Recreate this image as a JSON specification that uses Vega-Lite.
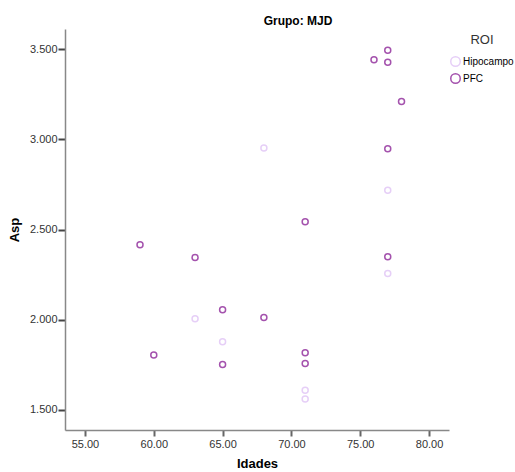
{
  "$schema": "https://vega.github.io/schema/vega-lite/v6.json",
  "autosize": "none",
  "width": 384,
  "height": 401,
  "padding": {"left": 65, "top": 29, "right": 66, "bottom": 42},
  "background": "white",
  "config": {
    "font": "Liberation Sans",
    "view": {"stroke": null}
  },
  "title": {
    "text": "Grupo: MJD",
    "font": "Liberation Sans",
    "fontSize": 12,
    "fontWeight": "bold",
    "color": "#000000",
    "anchor": "middle",
    "dx": 41,
    "offset": 1
  },
  "data": {
    "values": [
      {"Idades": 77, "Asp": 3.493, "ROI": "PFC"},
      {"Idades": 76, "Asp": 3.441, "ROI": "PFC"},
      {"Idades": 77, "Asp": 3.427, "ROI": "PFC"},
      {"Idades": 78, "Asp": 3.209, "ROI": "PFC"},
      {"Idades": 77, "Asp": 2.947, "ROI": "PFC"},
      {"Idades": 71, "Asp": 2.543, "ROI": "PFC"},
      {"Idades": 59, "Asp": 2.415, "ROI": "PFC"},
      {"Idades": 63, "Asp": 2.345, "ROI": "PFC"},
      {"Idades": 77, "Asp": 2.349, "ROI": "PFC"},
      {"Idades": 65, "Asp": 2.055, "ROI": "PFC"},
      {"Idades": 68, "Asp": 2.013, "ROI": "PFC"},
      {"Idades": 60, "Asp": 1.805, "ROI": "PFC"},
      {"Idades": 71, "Asp": 1.817, "ROI": "PFC"},
      {"Idades": 65, "Asp": 1.752, "ROI": "PFC"},
      {"Idades": 71, "Asp": 1.758, "ROI": "PFC"},
      {"Idades": 68, "Asp": 2.951, "ROI": "Hipocampo"},
      {"Idades": 77, "Asp": 2.718, "ROI": "Hipocampo"},
      {"Idades": 77, "Asp": 2.256, "ROI": "Hipocampo"},
      {"Idades": 63, "Asp": 2.006, "ROI": "Hipocampo"},
      {"Idades": 65, "Asp": 1.878, "ROI": "Hipocampo"},
      {"Idades": 71, "Asp": 1.609, "ROI": "Hipocampo"},
      {"Idades": 71, "Asp": 1.561, "ROI": "Hipocampo"}
    ]
  },
  "mark": {"type": "point", "shape": "circle", "filled": false, "strokeWidth": 1.5, "size": 36, "opacity": 1},
  "encoding": {
    "x": {
      "field": "Idades",
      "type": "quantitative",
      "scale": {"domain": [53.55, 81.45], "nice": false, "zero": false},
      "axis": {
        "values": [55, 60, 65, 70, 75, 80],
        "format": ".2f",
        "grid": false,
        "title": "Idades",
        "titleFont": "Liberation Sans",
        "titleFontSize": 13,
        "titleFontWeight": "bold",
        "titleColor": "#000000",
        "titlePadding": 8,
        "labelFont": "Liberation Sans",
        "labelFontSize": 11,
        "labelColor": "#333333",
        "labelPadding": 2,
        "tickSize": 6,
        "tickColor": "#666666",
        "tickWidth": 2,
        "domainColor": "#888888",
        "domainWidth": 1.5
      }
    },
    "y": {
      "field": "Asp",
      "type": "quantitative",
      "scale": {"domain": [1.389, 3.611], "nice": false, "zero": false},
      "axis": {
        "values": [1.5, 2.0, 2.5, 3.0, 3.5],
        "format": ".3f",
        "grid": false,
        "title": "Asp",
        "titleFont": "Liberation Sans",
        "titleFontSize": 13,
        "titleFontWeight": "bold",
        "titleColor": "#000000",
        "titlePadding": 8,
        "labelFont": "Liberation Sans",
        "labelFontSize": 11,
        "labelColor": "#333333",
        "labelPadding": 1,
        "tickSize": 7,
        "tickColor": "#444444",
        "tickWidth": 2,
        "domainColor": "#888888",
        "domainWidth": 1.5
      }
    },
    "color": {
      "field": "ROI",
      "type": "nominal",
      "scale": {"domain": ["Hipocampo", "PFC"], "range": ["#e6cff7", "#a452ad"]},
      "legend": {
        "title": "ROI",
        "orient": "none",
        "legendX": 385,
        "legendY": 5,
        "titleFont": "Liberation Sans",
        "titleFontSize": 13,
        "titleFontWeight": "normal",
        "titleColor": "#333333",
        "titleAnchor": "middle",
        "titlePadding": 9,
        "labelFont": "Liberation Sans",
        "labelFontSize": 10,
        "labelColor": "#000000",
        "labelOffset": 2,
        "symbolType": "circle",
        "symbolSize": 90,
        "symbolStrokeWidth": 1.5,
        "symbolFillColor": "transparent",
        "rowPadding": 0
      }
    }
  }
}
